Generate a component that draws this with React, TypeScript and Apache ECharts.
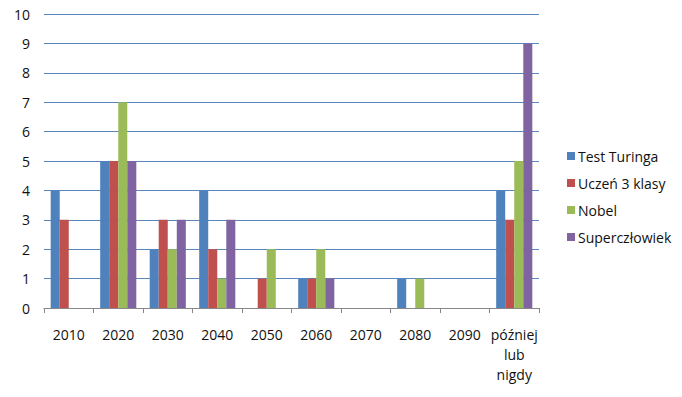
import React, { useEffect, useRef } from "react";
import * as echarts from "echarts";

const categories = ["2010", "2020", "2030", "2040", "2050", "2060", "2070", "2080", "2090", "później\nlub\nnigdy"];
const seriesNames = ["Test Turinga", "Uczeń 3 klasy", "Nobel", "Superczłowiek"];
const testTuringa = [4, 5, 2, 4, 0, 1, 0, 1, 0, 4];
const uczen3Klasy = [3, 5, 3, 2, 1, 1, 0, 0, 0, 3];
const nobel = [0, 7, 2, 1, 2, 2, 0, 1, 0, 5];
const superczlowiek = [0, 5, 3, 3, 0, 1, 0, 0, 0, 9];
const colors = ["#4F81BD", "#C0504D", "#9BBB59", "#8064A2"];

export default function App() {
  const ref = useRef<HTMLDivElement>(null);
  useEffect(() => {
    if (!ref.current) return;
    const chart = echarts.init(ref.current, null, { renderer: "svg" });
    const data = [testTuringa, uczen3Klasy, nobel, superczlowiek];
    const font = "'Open Sans', 'Noto Sans', sans-serif";
    chart.setOption({
      animation: false,
      backgroundColor: "#fff",
      color: colors,
      textStyle: { fontFamily: font },
      grid: { left: 44, right: 143, top: 14, bottom: 89, containLabel: false },
      legend: {
        orient: "vertical",
        left: 562,
        top: 144,
        itemWidth: 8,
        itemHeight: 8,
        itemGap: 13,
        icon: "rect",
        textStyle: { fontSize: 14, color: "#111", fontFamily: font, padding: [0, 0, 0, -2] },
        data: seriesNames,
      },
      xAxis: {
        type: "category",
        data: categories,
        axisLine: { show: true, lineStyle: { color: "#888", width: 1 } },
        axisTick: { show: true, length: 5, lineStyle: { color: "#888" } },
        axisLabel: { color: "#111", fontSize: 14, margin: 16, lineHeight: 20, interval: 0, fontFamily: font },
      },
      yAxis: {
        type: "value",
        min: 0,
        max: 10,
        interval: 1,
        axisLine: { show: false },
        axisTick: { show: false },
        axisLabel: { color: "#111", fontSize: 14, margin: 14, fontFamily: font },
        splitLine: { show: true, lineStyle: { color: "#5A86BF", width: 1 } },
      },
      series: seriesNames.map((name, i) => ({
        name,
        type: "bar",
        data: data[i],
        barGap: "0%",
        barCategoryGap: "27%",
        itemStyle: { color: colors[i] },
      })),
    });
    return () => chart.dispose();
  }, []);
  return <div ref={ref} style={{ width: 682, height: 397, position: "absolute", left: 0, top: 0 }} />;
}
